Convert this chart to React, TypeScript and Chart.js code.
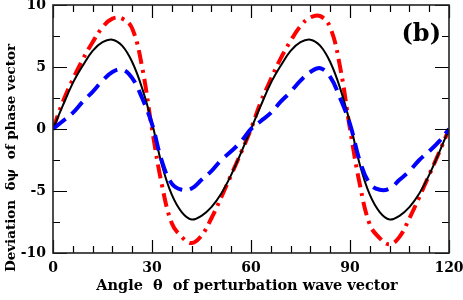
import { useEffect, useRef } from "react";
import { Chart, registerables } from "chart.js";

Chart.register(...registerables);

// Angle theta (degrees)
const angles = [
  0, 3, 6, 9, 12, 15, 18, 21, 24, 27, 30, 33, 36, 39, 42, 45, 48, 51, 54, 57, 60,
  63, 66, 69, 72, 75, 78, 81, 84, 87, 90, 93, 96, 99, 102, 105, 108, 111, 114, 117, 120,
];

// black solid curve
const blackSeries = [
  0, 1.9, 3.7, 5.1, 6.3, 7.0, 7.2, 6.7, 5.4, 3.3, 0.5, -2.9, -5.3, -6.7, -7.3, -7.0, -6.3, -5.2, -3.7, -1.9, 0,
  1.9, 3.7, 5.1, 6.3, 7.0, 7.2, 6.7, 5.4, 3.3, 0.5, -2.9, -5.3, -6.7, -7.3, -7.0, -6.3, -5.2, -3.7, -1.9, 0,
];

// red dash-dot curve
const redSeries = [
  0, 2.2, 4.0, 5.6, 7.0, 8.2, 8.9, 8.9, 8.1, 5.0, 0.0, -4.5, -7.6, -8.7, -9.2, -8.6, -7.2, -5.5, -3.7, -1.9, 0,
  2.2, 4.0, 5.7, 7.1, 8.3, 9.0, 9.1, 8.2, 5.0, 0.0, -4.5, -7.7, -8.8, -9.3, -8.7, -7.2, -5.5, -3.7, -1.9, 0,
];

// blue dashed curve
const blueSeries = [
  0, 0.65, 1.3, 2.2, 3.0, 3.9, 4.6, 4.8, 4.1, 2.5, 0.4, -2.6, -4.4, -4.9, -4.8, -4.1, -3.4, -2.5, -1.8, -1.0, 0,
  0.65, 1.3, 2.2, 3.0, 3.9, 4.6, 4.9, 4.2, 2.5, 0.4, -2.6, -4.4, -4.9, -4.8, -4.1, -3.4, -2.5, -1.8, -1.0, 0,
];

const xMajorTicks = [0, 30, 60, 90, 120];
const xMinorTicks = [6, 12, 18, 24, 36, 42, 48, 54, 66, 72, 78, 84, 96, 102, 108, 114];
const yMajorTicks = [-10, -5, 0, 5, 10];
const yMinorTicks = [-7.5, -2.5, 2.5, 7.5];

const xTitle = "Angle  \u03B8  of perturbation wave vector";
const yTitle = "Deviation  \u03B4\u03C8  of phase vector";
const panelLabel = "(b)";

const FONT = "'DejaVu Serif', 'Liberation Serif', serif";

export default function App() {
  const ref = useRef<HTMLCanvasElement>(null);

  useEffect(() => {
    document.body.style.margin = "0";
    if (!ref.current) return;

    const framePlugin = {
      id: "frame",
      afterDraw(chart: any) {
        const { ctx, chartArea: a, scales } = chart;
        const xs = scales.x;
        const ys = scales.y;
        ctx.save();
        ctx.strokeStyle = "#000";
        ctx.lineWidth = 1.2;
        const major = 13;
        const minor = 7;
        const drawX = (v: number, len: number) => {
          const px = Math.round(xs.getPixelForValue(v)) + 0.5;
          ctx.beginPath();
          ctx.moveTo(px, a.bottom);
          ctx.lineTo(px, a.bottom - len);
          ctx.moveTo(px, a.top);
          ctx.lineTo(px, a.top + len);
          ctx.stroke();
        };
        const drawY = (v: number, len: number) => {
          const py = Math.round(ys.getPixelForValue(v)) + 0.5;
          ctx.beginPath();
          ctx.moveTo(a.left, py);
          ctx.lineTo(a.left + len, py);
          ctx.moveTo(a.right, py);
          ctx.lineTo(a.right - len, py);
          ctx.stroke();
        };
        xMajorTicks.forEach((v) => drawX(v, major));
        xMinorTicks.forEach((v) => drawX(v, minor));
        yMajorTicks.forEach((v) => drawY(v, major + 1));
        yMinorTicks.forEach((v) => drawY(v, minor));

        ctx.lineWidth = 1.6;
        ctx.strokeStyle = "#222";
        ctx.strokeRect(a.left, a.top, a.right - a.left, a.bottom - a.top);

        ctx.fillStyle = "#000";
        ctx.textAlign = "center";
        ctx.textBaseline = "middle";
        ctx.font = `bold 14.5px ${FONT}`;
        ctx.fillText(xTitle, 247, 286);

        ctx.save();
        ctx.translate(11, 158);
        ctx.rotate(-Math.PI / 2);
        ctx.font = `bold 13.5px ${FONT}`;
        ctx.fillText(yTitle, 0, 0);
        ctx.restore();

        ctx.font = `bold 24px ${FONT}`;
        ctx.textAlign = "right";
        ctx.fillText(panelLabel, 441, 35);
        ctx.restore();
      },
    };

    const mk = (vals: number[]) => angles.map((a, i) => ({ x: a, y: vals[i] }));

    const chart = new Chart(ref.current, {
      type: "line",
      data: {
        datasets: [
          {
            label: "blue",
            data: mk(blueSeries),
            borderColor: "#0000ff",
            borderWidth: 4,
            borderDash: [16, 8],
            pointRadius: 0,
            tension: 0.4,
            fill: false,
          },
          {
            label: "black",
            data: mk(blackSeries),
            borderColor: "#000000",
            borderWidth: 2,
            pointRadius: 0,
            tension: 0.4,
            fill: false,
          },
          {
            label: "red",
            data: mk(redSeries),
            borderColor: "#ff0000",
            borderWidth: 4,
            borderDash: [14, 6, 3, 6],
            pointRadius: 0,
            tension: 0.4,
            fill: false,
          },
        ],
      },
      options: {
        animation: false,
        responsive: true,
        maintainAspectRatio: false,
        layout: { padding: { top: 5, right: 14, left: 0, bottom: 0 } },
        plugins: { legend: { display: false }, tooltip: { enabled: false } },
        scales: {
          x: {
            type: "linear",
            min: 0,
            max: 120,
            grid: { display: false, drawTicks: false },
            border: { display: false },
            ticks: {
              stepSize: 30,
              padding: 7,
              color: "#000",
              font: { family: FONT, size: 14, weight: "bold" },
              maxRotation: 0,
            },
            afterFit(scale: any) {
              scale.height = 47;
              scale.paddingLeft = 0;
              scale.paddingRight = 0;
            },
          },
          y: {
            type: "linear",
            min: -10,
            max: 10,
            grid: { display: false, drawTicks: false },
            border: { display: false },
            ticks: {
              stepSize: 5,
              padding: 7,
              color: "#000",
              font: { family: FONT, size: 14, weight: "bold" },
            },
            afterFit(scale: any) {
              scale.width = 53;
              scale.paddingTop = 0;
              scale.paddingBottom = 0;
            },
          },
        },
      },
      plugins: [framePlugin],
    });

    return () => chart.destroy();
  }, []);

  return (
    <div style={{ position: "absolute", left: 0, top: 0, width: 463, height: 300, background: "#fff" }}>
      <canvas ref={ref} />
    </div>
  );
}
